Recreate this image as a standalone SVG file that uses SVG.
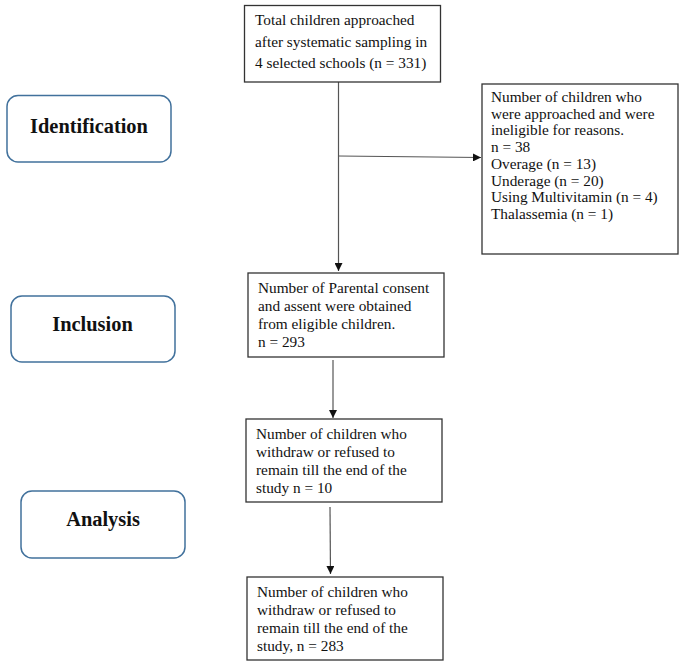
<svg xmlns="http://www.w3.org/2000/svg" width="685" height="664" viewBox="0 0 685 664">
<defs>
<marker id="ah" viewBox="0 0 10 10" refX="10" refY="5" markerWidth="8" markerHeight="8" markerUnits="userSpaceOnUse" orient="auto">
<path d="M0,0 L10,5 L0,10 z" fill="#111"/>
</marker>
<style>
.box{fill:#fff;stroke:#333;stroke-width:1.3}
.stage{fill:#fff;stroke:#41719C;stroke-width:1.5}
.t{font-family:"Liberation Serif","Times New Roman",serif;font-size:15.3px;fill:#111}
.lab{font-family:"Liberation Serif","Times New Roman",serif;font-size:20.4px;font-weight:bold;fill:#111;text-anchor:middle}
.ln{stroke:#555;stroke-width:1.2;fill:none}
</style>
</defs>
<rect width="685" height="664" fill="#fff"/>

<g id="stage-identification">
<rect class="stage" x="7" y="95.5" width="164" height="66.5" rx="11"/>
<text class="lab" x="89" y="133">Identification</text>
</g>
<g id="stage-inclusion">
<rect class="stage" x="11" y="296" width="164" height="66" rx="11"/>
<text class="lab" x="92.5" y="331">Inclusion</text>
</g>
<g id="stage-analysis">
<rect class="stage" x="21" y="491" width="164" height="67" rx="11"/>
<text class="lab" x="103" y="526">Analysis</text>
</g>

<g id="connectors">
<line class="ln" x1="338.5" y1="82" x2="338.5" y2="271" marker-end="url(#ah)"/>
<line class="ln" x1="338.5" y1="156" x2="481" y2="157.5" marker-end="url(#ah)"/>
<line class="ln" x1="333" y1="360" x2="333" y2="418" marker-end="url(#ah)"/>
<line class="ln" x1="330" y1="507" x2="330.5" y2="574" marker-end="url(#ah)"/>
</g>

<g id="n-total">
<rect class="box" x="244.5" y="5.5" width="196" height="76.5"/>
<text class="t" x="255" y="25">Total children approached</text>
<text class="t" x="255" y="47">after systematic sampling in</text>
<text class="t" x="255" y="68">4 selected schools (n = 331)</text>
</g>

<g id="n-ineligible">
<rect class="box" x="482" y="84" width="196" height="170"/>
<text class="t" x="491" y="102">Number of children who</text>
<text class="t" x="491" y="118.7">were approached and were</text>
<text class="t" x="491" y="135.4">ineligible for reasons.</text>
<text class="t" x="491" y="152.1">n = 38</text>
<text class="t" x="491" y="168.8">Overage (n = 13)</text>
<text class="t" x="491" y="185.5">Underage (n = 20)</text>
<text class="t" x="491" y="202.2">Using Multivitamin (n = 4)</text>
<text class="t" x="491" y="218.9">Thalassemia (n = 1)</text>
</g>

<g id="n-consent">
<rect class="box" x="248" y="273" width="196" height="84"/>
<text class="t" x="258" y="293">Number of Parental consent</text>
<text class="t" x="258" y="311">and assent were obtained</text>
<text class="t" x="258" y="329">from eligible children.</text>
<text class="t" x="258" y="347">n = 293</text>
</g>

<g id="n-withdraw">
<rect class="box" x="246" y="419" width="196" height="83"/>
<text class="t" x="256" y="439">Number of children who</text>
<text class="t" x="256" y="457">withdraw or refused to</text>
<text class="t" x="256" y="475">remain till the end of the</text>
<text class="t" x="256" y="493">study n = 10</text>
</g>

<g id="n-final">
<rect class="box" x="247" y="577" width="196" height="83"/>
<text class="t" x="257" y="597">Number of children who</text>
<text class="t" x="257" y="615">withdraw or refused to</text>
<text class="t" x="257" y="633">remain till the end of the</text>
<text class="t" x="257" y="651">study, n = 283</text>
</g>
</svg>
